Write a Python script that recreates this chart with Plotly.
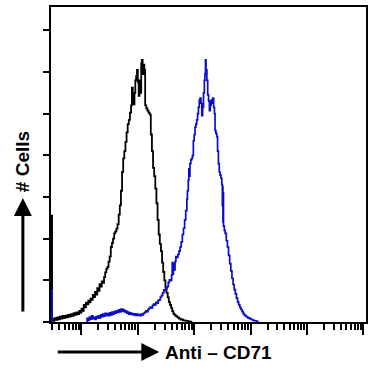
import math
import plotly.graph_objects as go

# log10 fluorescence (x) and cell counts (y)
control_x = [0.462, 0.462, 0.478, 0.50, 0.52, 0.545, 0.57, 0.59, 0.615, 0.64, 0.66, 0.685, 0.71, 0.735,
             0.76, 0.785, 0.81, 0.835, 0.86, 0.885, 0.91, 0.935, 0.96, 0.985, 1.0, 1.02, 1.04, 1.06,
             1.08, 1.10, 1.12, 1.14, 1.16, 1.18, 1.20, 1.22, 1.24, 1.26, 1.28, 1.30, 1.32, 1.34, 1.36,
             1.38, 1.40, 1.42, 1.44, 1.46, 1.48, 1.50, 1.52, 1.54, 1.56, 1.58, 1.60, 1.62, 1.64, 1.66,
             1.68, 1.70, 1.72, 1.74, 1.76, 1.78, 1.80, 1.82, 1.84, 1.86, 1.88, 1.895, 1.91, 1.925, 1.94,
             1.955, 1.97, 1.985, 2.0, 2.015, 2.03, 2.045, 2.06, 2.07, 2.085, 2.10, 2.115, 2.13, 2.15,
             2.17, 2.19, 2.21, 2.23, 2.25, 2.27, 2.29, 2.31, 2.33, 2.35, 2.37, 2.39, 2.41, 2.43, 2.45,
             2.47, 2.49, 2.51, 2.53, 2.55, 2.57, 2.59, 2.61, 2.63, 2.65, 2.67, 2.70, 2.73, 2.76, 2.80,
             2.85, 2.90, 2.95]
control_y = [0, 51, 1.3, 0.5, 1.8, 1.0, 2.2, 1.3, 2.6, 1.6, 2.9, 2.0, 3.0, 2.2,
             3.4, 2.6, 3.8, 3.0, 4.2, 3.4, 4.6, 3.8, 5.3, 4.5, 6.4, 5.4, 8.2, 7.0,
             9.3, 8.5, 10.2, 9.4, 11.2, 10.6, 13.0, 11.9, 14.5, 13.2, 16.3, 15.0, 18.2, 17.0, 19.5,
             18.8, 21.5, 23.8, 25.5, 26.5, 29.0, 31.5, 36.0, 38.0, 40.0, 42.5, 43.5, 44.8, 47.0, 51.5,
             56.0, 63.0, 72.0, 78.5, 82.0, 86.5, 91.0, 95.0, 97.0, 100.5, 104.0, 112.5, 108.0, 104.5, 110.0,
             116.0, 118.0, 121.0, 115.0, 108.5, 116.0, 110.0, 124.0, 125.8, 119.0, 123.5, 121.0, 104.0, 102.5,
             101.5, 100.5, 99.5, 90.0, 82.0, 74.0, 70.0, 64.0, 57.0, 49.0, 42.0, 37.5, 34.0, 28.5, 24.0,
             20.0, 16.5, 14.0, 11.8, 9.6, 8.2, 6.8, 5.2, 4.0, 3.4, 2.8, 2.2, 1.6, 1.2, 0.8,
             0.5, 0.2, 0]

cd71_x = [0.462, 0.462, 0.478, None,
          1.09, 1.10, 1.12, 1.14, 1.16, 1.18, 1.20, 1.22, 1.24, 1.26, 1.28, 1.30, 1.32, 1.34, 1.36,
          1.38, 1.40, 1.42, 1.44, 1.46, 1.48, 1.50, 1.52, 1.54, 1.56, 1.58, 1.60, 1.62, 1.64, 1.66,
          1.68, 1.70, 1.72, 1.74, 1.76, 1.78, 1.80, 1.82, 1.84, 1.86, 1.88, 1.90, 1.92, 1.94, 1.96,
          1.98, 2.00, 2.02, 2.04, 2.06, 2.08, 2.10, 2.12, 2.14, 2.16, 2.18, 2.20, 2.22, 2.24, 2.26,
          2.28, 2.30, 2.32, 2.34, 2.36, 2.38, 2.40, 2.42, 2.44, 2.46, 2.48, 2.50, 2.52, 2.54, 2.56,
          2.58, 2.60, 2.61, 2.62, 2.63, 2.645, 2.66, 2.675, 2.69, 2.71, 2.73, 2.75, 2.77, 2.79, 2.81,
          2.83, 2.85, 2.87, 2.88, 2.895, 2.905, 2.915, 2.925, 2.94, 2.955, 2.97, 2.985, 3.00, 3.015,
          3.03, 3.045, 3.06, 3.075, 3.09, 3.105, 3.12, 3.135, 3.15, 3.165, 3.18, 3.19, 3.20, 3.21,
          3.225, 3.24, 3.255, 3.27, 3.285, 3.30, 3.315, 3.33, 3.345, 3.36, 3.37, 3.385, 3.40, 3.415,
          3.43, 3.445, 3.46, 3.475, 3.49, 3.50, 3.505, 3.51, 3.515, 3.52, 3.535, 3.55, 3.57, 3.59,
          3.61, 3.63, 3.65, 3.67, 3.69, 3.71, 3.73, 3.75, 3.77, 3.79, 3.81, 3.83, 3.85, 3.87, 3.89,
          3.92, 3.95, 3.98, 4.01, 4.04, 4.07, 4.10, 4.13]
cd71_y = [0, 15.4, 0, None,
          0, 1.8, 0.8, 2.4, 1.4, 2.9, 1.6, 2.2, 1.2, 2.6, 1.8, 3.0, 2.0, 3.4, 2.6,
          3.8, 2.8, 4.2, 3.2, 4.0, 3.0, 4.4, 3.4, 4.8, 3.8, 5.0, 4.2, 5.4, 4.6, 5.8,
          4.8, 6.2, 5.2, 5.9, 4.8, 5.4, 4.2, 4.8, 3.8, 4.4, 3.6, 4.0, 3.4, 3.9, 3.2,
          3.8, 3.2, 3.6, 3.0, 3.8, 3.4, 4.2, 4.6, 5.4, 5.0, 6.0, 6.6, 7.2, 6.8, 8.0,
          8.6, 8.2, 9.4, 9.0, 10.4, 10.6, 12.0, 12.8, 14.0, 15.4, 15.0, 16.4, 17.0, 19.0, 20.2,
          20.0, 22.5, 28.5, 23.0, 28.0, 25.0, 29.0, 31.4, 31.0, 32.5, 34.0, 36.0, 38.5, 42.0, 45.0,
          49.0, 53.5, 59.0, 63.0, 68.0, 73.5, 70.0, 76.0, 77.8, 78.5, 80.0, 87.0, 90.0, 93.5,
          95.0, 97.0, 100.0, 103.0, 106.5, 107.5, 105.0, 99.0, 103.0, 110.0, 116.0, 119.0, 125.8, 121.0,
          116.0, 109.0, 106.0, 101.5, 104.0, 106.5, 105.0, 107.5, 103.0, 100.0, 92.0, 90.5, 89.0, 82.0,
          76.0, 72.0, 70.5, 69.0, 66.0, 56.0, 65.0, 48.0, 62.0, 46.0, 44.0, 42.5, 39.0, 36.0,
          32.0, 28.0, 24.5, 21.0, 18.0, 15.5, 13.5, 11.5, 9.5, 8.2, 7.0, 6.0, 5.0, 4.0, 3.2,
          2.6, 2.0, 1.6, 1.2, 0.8, 0.6, 0.3, 0]

decades = [1, 2, 3, 4, 5, 6]
y_ticks = [0, 20, 40, 60, 80, 100, 120, 140]
x_range = [0.459, 6.049]
y_range = [0, 151.2]

minor_vals = [math.log10(k) for k in range(3, 10)]
for d in decades[:-1]:
    minor_vals += [d + math.log10(k) for k in range(2, 10)]

fig = go.Figure()
fig.add_trace(go.Scatter(x=control_x, y=control_y, mode="lines", line_shape="hv",
                         line=dict(color="#000000", width=1.8), hoverinfo="skip"))
# same x range on a second (overlaid) axis that carries the minor log ticks
fig.add_trace(go.Scatter(x=cd71_x, y=cd71_y, mode="lines", line_shape="hv", connectgaps=False,
                         xaxis="x2", line=dict(color="#0c0cc8", width=1.7), hoverinfo="skip"))

fig.update_layout(
    width=370, height=377,
    margin=dict(l=51, r=2, t=7, b=55),
    paper_bgcolor="white", plot_bgcolor="white",
    showlegend=False,
    font=dict(family="Liberation Sans", color="black"),
    xaxis=dict(range=x_range, showgrid=False, zeroline=False, showline=True, mirror=True,
               linecolor="black", linewidth=2, tickmode="array", tickvals=decades,
               ticks="outside", ticklen=11, tickwidth=2, tickcolor="black", showticklabels=False),
    xaxis2=dict(range=x_range, overlaying="x", anchor="y", side="bottom", showgrid=False,
                zeroline=False, showline=False, tickmode="array", tickvals=minor_vals,
                ticks="outside", ticklen=7, tickwidth=1.5, tickcolor="black", showticklabels=False),
    yaxis=dict(range=y_range, showgrid=False, zeroline=False, showline=True, mirror=True,
               linecolor="black", linewidth=2, tickmode="array", tickvals=y_ticks,
               ticks="outside", ticklen=6, tickwidth=2, tickcolor="black", showticklabels=False),
)

# axis titles with arrows
fig.add_annotation(x=(219.5 - 51) / 317, y=(322 - 352) / 315, xref="paper", yref="paper",
                   text="<b>Anti – CD71</b>", showarrow=False, xanchor="center", yanchor="middle",
                   font=dict(size=19, family="Liberation Sans", color="black"))
fig.add_annotation(x=(160 - 51) / 317, y=(322 - 352) / 315, xref="paper", yref="paper",
                   text="", showarrow=True, ax=-103, ay=0, arrowhead=2, arrowsize=1.2,
                   arrowwidth=3, arrowcolor="black", standoff=0)
fig.add_annotation(x=(22 - 51) / 317, y=(322 - 162) / 315, xref="paper", yref="paper",
                   text="<b># Cells</b>", textangle=-90, showarrow=False, xanchor="center",
                   yanchor="middle", font=dict(size=19, family="Liberation Sans", color="black"))
fig.add_annotation(x=(22.7 - 51) / 317, y=(322 - 198) / 315, xref="paper", yref="paper",
                   text="", showarrow=True, ax=0, ay=115, arrowhead=2, arrowsize=1.2,
                   arrowwidth=3, arrowcolor="black", standoff=0)

fig.write_html("out.html", config={"displayModeBar": False},
               post_script="document.body.style.margin='0';")
